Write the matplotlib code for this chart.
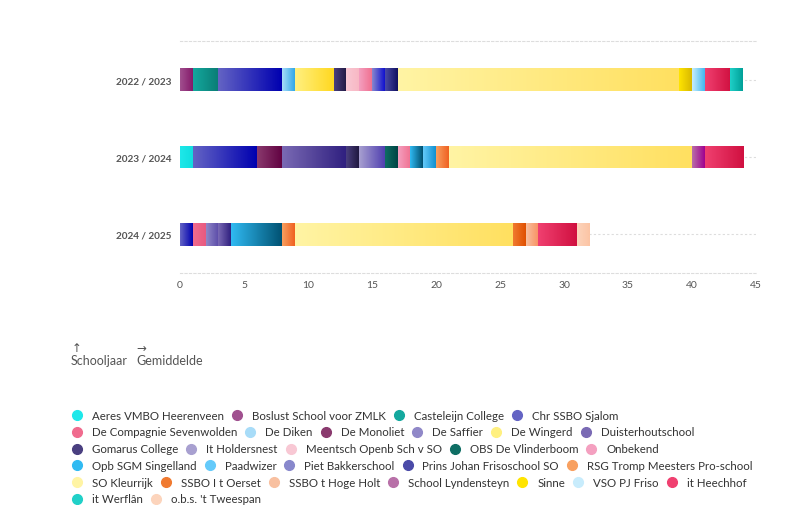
import numpy as np
import matplotlib
matplotlib.use('Agg')
import matplotlib.pyplot as plt
from matplotlib.colors import LinearSegmentedColormap
from matplotlib.lines import Line2D

plt.rcParams['font.family'] = ['Lato', 'DejaVu Sans']

years = ['2022 / 2023', '2023 / 2024', '2024 / 2025']

schools = ['Aeres VMBO Heerenveen', 'Boslust School voor ZMLK', 'Casteleijn College',
           'Chr SSBO Sjalom', 'De Compagnie Sevenwolden', 'De Diken', 'De Monoliet',
           'De Saffier', 'De Wingerd', 'Duisterhoutschool', 'Gomarus College',
           'It Holdersnest', 'Meentsch Openb Sch v SO', 'OBS De Vlinderboom', 'Onbekend',
           'Opb SGM Singelland', 'Paadwizer', 'Piet Bakkerschool',
           'Prins Johan Frisoschool SO', 'RSG Tromp Meesters Pro-school', 'SO Kleurrijk',
           'SSBO I t Oerset', 'SSBO t Hoge Holt', 'School Lyndensteyn', 'Sinne',
           'VSO PJ Friso', 'it Heechhof', 'it Werflân', "o.b.s. 't Tweespan"]

# aantal leerlingen per school, per schooljaar (zelfde volgorde als schools)
v2022 = [0, 1, 2, 5, 0, 1, 0, 0, 3, 0, 1, 0, 1, 0, 1, 0, 0, 1, 1, 0, 22, 0, 0, 0, 1, 1, 2, 1, 0]
v2023 = [1, 0, 0, 5, 0, 0, 2, 0, 0, 5, 1, 2, 0, 1, 1, 1, 1, 0, 0, 1, 19, 0, 0, 1, 0, 0, 3, 0, 0]
v2024 = [0, 0, 0, 1, 1, 0, 0, 1, 0, 1, 0, 0, 0, 0, 0, 4, 0, 0, 0, 1, 17, 1, 1, 0, 0, 0, 3, 0, 1]
values = [v2022, v2023, v2024]

# (licht, donker) per school: legenda gebruikt de lichte kleur
light = ['#1ee8ea', '#a0508f', '#14a89e', '#6464c4', '#f06b8e', '#a8dcf8', '#8a3a6e',
         '#9088c8', '#fff080', '#7a6ab4', '#4a3f80', '#a8a0d0', '#f8c8d4', '#0e6e64',
         '#f4a0c0', '#30baf2', '#64cafa', '#8888cc', '#4a4aa8', '#f8a060', '#fff4a4',
         '#f07a30', '#f8c0a0', '#b870a8', '#ffe400', '#c8ecfc', '#f04070', '#20d0c8',
         '#fcd4bc']
dark = ['#10dede', '#861a6a', '#0a7c74', '#0000b0', '#e85a80', '#30a8e8', '#600040',
        '#5a4aa8', '#ffd820', '#302080', '#201840', '#5040b0', '#f8b8c4', '#004444',
        '#f07090', '#005070', '#1090d0', '#1010d0', '#101060', '#f06020', '#ffe060',
        '#e05000', '#f89060', '#a00090', '#d8b800', '#40b8f0', '#d01040', '#00a098',
        '#fcc4a4']

fig = plt.figure(figsize=(7.94, 5.06), dpi=100)
ax = fig.add_axes([180 / 794, 1 - 274 / 506, 576 / 794, 232 / 506])

bar_h = 0.29
grad = np.linspace(0, 1, 128).reshape(1, -1)
for i, row in enumerate(values):
    left = 0
    for j, v in enumerate(row):
        if v == 0:
            continue
        bars = ax.barh(i, v, left=left, height=bar_h, color=dark[j], linewidth=0, zorder=2)
        cmap = LinearSegmentedColormap.from_list('g', [light[j], dark[j]])
        im = ax.imshow(grad, cmap=cmap, aspect='auto', zorder=3,
                       extent=(left, left + v, i - bar_h / 2, i + bar_h / 2))
        im.set_clip_path(bars[0])
        left += v

ax.set_xlim(0, 45)
ax.set_ylim(2.5, -0.5)
ax.set_xticks(range(0, 46, 5))
ax.set_yticks(range(len(years)))
ax.set_yticklabels(years, fontsize=7.2, fontweight='bold', color='#555555')
ax.tick_params(axis='x', length=0, pad=5, labelsize=7.5, labelcolor='#555555')
ax.tick_params(axis='y', length=0, pad=6)
ax.grid(axis='y', color='#dddddd', linestyle=(0, (2, 2)), linewidth=0.8, zorder=0)
for s in ['left', 'right']:
    ax.spines[s].set_visible(False)
for s in ['top', 'bottom']:
    ax.spines[s].set_color('#dddddd')
    ax.spines[s].set_linestyle((0, (2, 2)))
    ax.spines[s].set_linewidth(0.8)

# as-titels
fig.text(72 / 794, 1 - 348 / 506, '↑', fontsize=8.5, color='#555555', va='center',
         family=['DejaVu Sans'])
fig.text(71 / 794, 1 - 361 / 506, 'Schooljaar', fontsize=9, color='#555555', va='center')
fig.text(136 / 794, 1 - 348 / 506, '→', fontsize=8.5, color='#555555', va='center',
         family=['DejaVu Sans'])
fig.text(136 / 794, 1 - 361 / 506, 'Gemiddelde', fontsize=9, color='#555555', va='center')

# legenda, per rij uitgelijnd zoals in het origineel
rows = [4, 6, 5, 5, 7, 2]
fig.canvas.draw()
renderer = fig.canvas.get_renderer()
k = 0
for r, n in enumerate(rows):
    y = 416 + r * 16.8
    x = 77
    for _ in range(n):
        fig.add_artist(Line2D([x / 794], [1 - y / 506], marker='o', markersize=7,
                              color=light[k], linestyle='none', transform=fig.transFigure))
        t = fig.text((x + 15) / 794, 1 - y / 506, schools[k], fontsize=8.3,
                     color='#333333', va='center')
        w = t.get_window_extent(renderer).width
        x = x + 15 + w + 13
        k += 1

fig.savefig('out.png', dpi=100)
